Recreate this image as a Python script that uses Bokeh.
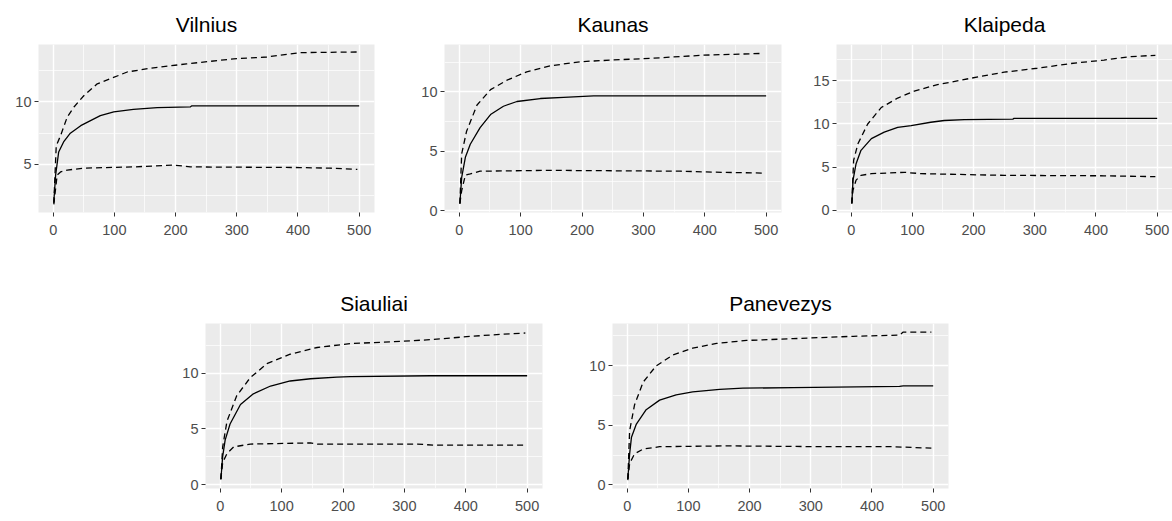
from bokeh.plotting import figure
from bokeh.layouts import column, row
from bokeh.models import Spacer, FixedTicker, Range1d
from bokeh.embed import file_html
from bokeh.resources import INLINE

# ---------------- data ----------------
cities = ["Vilnius", "Kaunas", "Klaipeda", "Siauliai", "Panevezys"]

vilnius_mean_x = [1, 4, 9, 17, 28, 45, 61, 77, 99, 131, 170, 224, 226, 500]
vilnius_mean = [2.0, 4.15, 6.0, 6.8, 7.5, 8.1, 8.5, 8.9, 9.2, 9.4, 9.55, 9.6, 9.68, 9.68]
vilnius_upper_x = [1, 5, 12, 23, 34, 50, 72, 93, 121, 159, 218, 295, 349, 403, 497]
vilnius_upper = [1.9, 6.5, 7.3, 8.8, 9.6, 10.5, 11.45, 11.85, 12.4, 12.7, 13.05, 13.45, 13.6, 13.95, 14.0]
vilnius_lower_x = [1, 6.5, 12, 23, 50, 131, 197, 224, 403, 452, 497]
vilnius_lower = [1.8, 4.15, 4.4, 4.55, 4.7, 4.8, 4.95, 4.8, 4.75, 4.7, 4.6]

kaunas_mean_x = [1, 4, 10, 18, 34, 51, 72, 94, 132, 170, 219, 500]
kaunas_mean = [0.6, 2.8, 4.5, 5.6, 7.0, 8.1, 8.8, 9.2, 9.45, 9.55, 9.67, 9.67]
kaunas_upper_x = [1, 4, 12, 29, 51, 78, 110, 148, 197, 252, 317, 398, 495]
kaunas_upper = [0.6, 4.8, 6.7, 8.9, 10.2, 11.0, 11.7, 12.2, 12.55, 12.7, 12.85, 13.1, 13.25]
kaunas_lower_x = [1, 4, 10, 18, 34, 143, 360, 415, 495]
kaunas_lower = [0.6, 1.7, 3.0, 3.1, 3.33, 3.4, 3.33, 3.25, 3.17]

klaipeda_mean_x = [1, 3, 8, 16, 33, 54, 76, 98, 130, 152, 185, 264, 266, 500]
klaipeda_mean = [0.8, 3.5, 5.4, 6.95, 8.3, 9.05, 9.6, 9.8, 10.2, 10.4, 10.5, 10.55, 10.65, 10.65]
klaipeda_upper_x = [1, 4, 11, 27, 49, 76, 103, 141, 196, 250, 304, 359, 413, 457, 497]
klaipeda_upper = [0.8, 5.8, 7.7, 10.0, 11.9, 13.0, 13.8, 14.55, 15.3, 16.0, 16.45, 17.0, 17.4, 17.8, 17.95]
klaipeda_lower_x = [1, 3, 8, 16, 33, 87, 114, 250, 413, 497]
klaipeda_lower = [0.8, 2.35, 3.5, 4.05, 4.25, 4.4, 4.25, 4.05, 4.0, 3.9]

siauliai_mean_x = [1, 4, 8, 16, 33, 54, 82, 114, 147, 190, 212, 342, 500]
siauliai_mean = [0.5, 2.55, 4.0, 5.45, 7.2, 8.15, 8.85, 9.3, 9.5, 9.65, 9.7, 9.77, 9.77]
siauliai_upper_x = [1, 4, 11, 27, 49, 76, 114, 158, 212, 277, 342, 408, 462, 497]
siauliai_upper = [0.5, 3.4, 5.7, 8.0, 9.6, 10.85, 11.7, 12.3, 12.65, 12.8, 13.0, 13.3, 13.5, 13.6]
siauliai_lower_x = [1, 4, 11, 22, 49, 147, 158, 321, 348, 497]
siauliai_lower = [0.5, 2.0, 2.8, 3.4, 3.65, 3.75, 3.65, 3.65, 3.55, 3.55]

panevezys_mean_x = [1, 4, 7, 15, 31, 53, 80, 107, 151, 189, 271, 445, 451, 500]
panevezys_mean = [0.5, 2.6, 4.0, 5.1, 6.3, 7.1, 7.55, 7.8, 8.0, 8.1, 8.15, 8.25, 8.3, 8.3]
panevezys_upper_x = [1, 4, 12, 26, 47, 75, 107, 146, 195, 271, 369, 445, 451, 497]
panevezys_upper = [0.5, 4.55, 6.7, 8.6, 9.95, 10.9, 11.45, 11.85, 12.1, 12.25, 12.45, 12.55, 12.8, 12.8]
panevezys_lower_x = [1, 4, 12, 26, 53, 162, 325, 434, 497]
panevezys_lower = [0.4, 1.8, 2.6, 3.0, 3.2, 3.27, 3.2, 3.2, 3.08]

x_ticks = [0, 100, 200, 300, 400, 500]
x_minor = [50, 150, 250, 350, 450]
y_ticks_vilnius = [5, 10]
y_ticks_kaunas = [0, 5, 10]
y_ticks_klaipeda = [0, 5, 10, 15]
y_ticks_siauliai = [0, 5, 10]
y_ticks_panevezys = [0, 5, 10]
y_minor_std = [2.5, 7.5, 12.5]
y_minor_klaipeda = [2.5, 7.5, 12.5, 17.5]

FONT = "Liberation Sans"


def panel(title, mx, my, ux, uy, lx, ly, yticks, yminor, yrange,
          width, height, left, right, top, bottom):
    p = figure(width=width, height=height, output_backend="svg",
               toolbar_location=None, title=title,
               x_range=Range1d(-24, 525), y_range=Range1d(*yrange),
               min_border_left=left, min_border_right=right,
               min_border_top=top, min_border_bottom=bottom)
    p.title.align = "center"
    p.title.text_font = FONT
    p.title.text_font_size = "21px"
    p.title.text_font_style = "normal"
    p.title.text_color = "#000000"
    p.title.standoff = 17
    p.background_fill_color = "#EBEBEB"
    p.border_fill_color = "white"
    p.outline_line_color = None
    for ax, ticks, minor in ((p.xaxis[0], x_ticks, x_minor), (p.yaxis[0], yticks, yminor)):
        ax.ticker = FixedTicker(ticks=ticks, minor_ticks=minor)
        ax.axis_line_color = None
        ax.major_tick_line_color = "#333333"
        ax.major_tick_out = 4
        ax.major_tick_in = 0
        ax.minor_tick_out = 0
        ax.minor_tick_in = 0
        ax.major_label_text_font = FONT
        ax.major_label_text_font_size = "14.5px"
        ax.major_label_text_color = "#4D4D4D"
    p.xaxis[0].major_label_standoff = 8
    p.yaxis[0].major_label_standoff = 3
    for g in (p.xgrid[0], p.ygrid[0]):
        g.grid_line_color = "white"
        g.grid_line_width = 1.4
        g.minor_grid_line_color = "white"
        g.minor_grid_line_width = 0.7
    p.line(ux, uy, line_color="black", line_width=1.3, line_dash="6 4")
    p.line(lx, ly, line_color="black", line_width=1.3, line_dash="6 4")
    p.line(mx, my, line_color="black", line_width=1.3)
    return p


p1 = panel(cities[0], vilnius_mean_x, vilnius_mean, vilnius_upper_x, vilnius_upper,
           vilnius_lower_x, vilnius_lower, y_ticks_vilnius, y_minor_std, (1.15, 14.6),
           400, 250, 38, 26, 43, 38)
p2 = panel(cities[1], kaunas_mean_x, kaunas_mean, kaunas_upper_x, kaunas_upper,
           kaunas_lower_x, kaunas_lower, y_ticks_kaunas, y_minor_std, (-0.15, 14.0),
           400, 250, 44, 19, 43, 37)
p3 = panel(cities[2], klaipeda_mean_x, klaipeda_mean, klaipeda_upper_x, klaipeda_upper,
           klaipeda_lower_x, klaipeda_lower, y_ticks_klaipeda, y_minor_klaipeda, (-0.25, 19.2),
           372, 250, 36, 0, 44, 37)
p4 = panel(cities[3], siauliai_mean_x, siauliai_mean, siauliai_upper_x, siauliai_upper,
           siauliai_lower_x, siauliai_lower, y_ticks_siauliai, y_minor_std, (-0.33, 14.45),
           405, 271, 40, 28, 70, 33)
p5 = panel(cities[4], panevezys_mean_x, panevezys_mean, panevezys_upper_x, panevezys_upper,
           panevezys_lower_x, panevezys_lower, y_ticks_panevezys, y_minor_std, (-0.3, 13.52),
           402, 271, 42, 24, 73, 29)

layout = column(row(p1, p2, p3), row(Spacer(width=165, height=271), p4, p5))

open("out.html", "w").write(file_html(layout, INLINE))
